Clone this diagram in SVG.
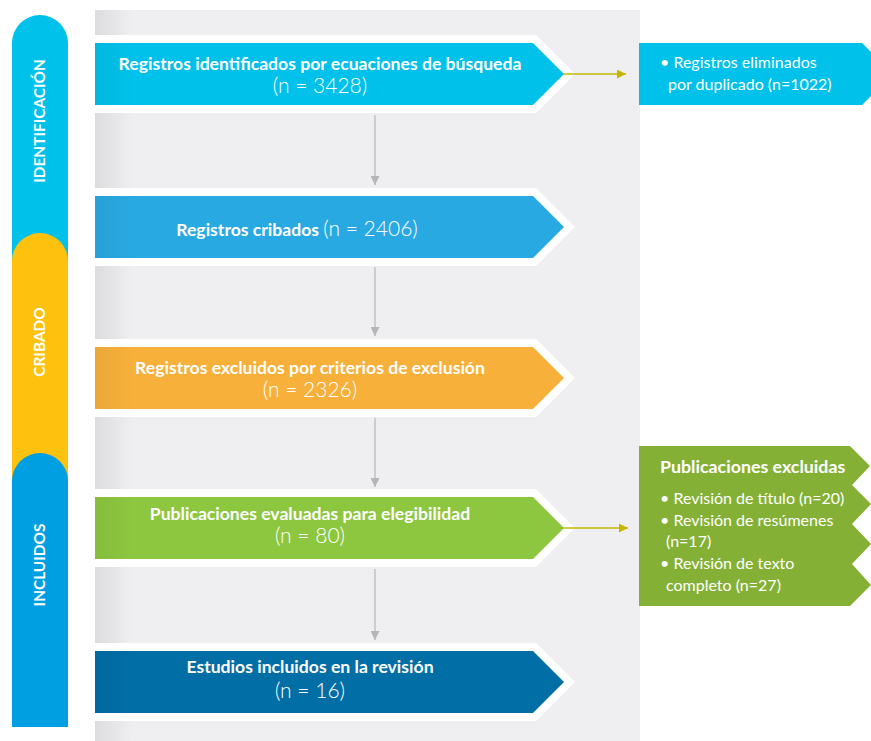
<svg xmlns="http://www.w3.org/2000/svg" width="871" height="741" viewBox="0 0 871 741">
<defs>
<linearGradient id="panelGrad" x1="0" y1="0" x2="1" y2="0">
<stop offset="0" stop-color="#000" stop-opacity="0.08"/>
<stop offset="1" stop-color="#000" stop-opacity="0"/>
</linearGradient>
<marker id="grayHead" viewBox="0 0 10 10" refX="10" refY="5" markerWidth="9" markerHeight="9" markerUnits="userSpaceOnUse" orient="auto">
<path d="M0,0 L10,5 L0,10 Z" fill="#b5b5b7"/>
</marker>
<marker id="oliveHead" viewBox="0 0 10 10" refX="10" refY="5" markerWidth="9" markerHeight="9" markerUnits="userSpaceOnUse" orient="auto">
<path d="M0,0 L10,5 L0,10 Z" fill="#c2b600"/>
</marker>
</defs>
<style>
.bold{font-family:Lato,"Liberation Sans",sans-serif;font-weight:700;fill:#fff}
.light{font-family:Lato,"Liberation Sans",sans-serif;font-weight:300;fill:#fff}
.reg{font-family:Lato,"Liberation Sans",sans-serif;font-weight:400;fill:#fff}
.main{font-size:17.6px}
.num{font-size:21px}
.side{font-size:16px}
.lab{font-size:15.4px;font-family:Lato,"Liberation Sans",sans-serif;font-weight:700;fill:#fff}
.wht{fill:#fff}
.vline{stroke:#b5b5b7;stroke-width:1.2;fill:none;marker-end:url(#grayHead)}
.hline{stroke:#c2b600;stroke-width:1.3;fill:none;marker-end:url(#oliveHead)}
</style>
<rect x="0" y="0" width="871" height="741" fill="#fff"/>
<g id="panel">
<rect x="95" y="10" width="545" height="731" fill="#efeff1"/>
<rect x="95" y="10" width="38" height="731" fill="url(#panelGrad)"/>
</g>
<g id="phase-identificacion">
<path d="M12,43 A28,28 0 0 1 68,43 L68,270 L12,270 Z" fill="#00c1ea"/>
</g>
<g id="phase-cribado">
<path d="M12,261 A28,28 0 0 1 68,261 L68,490 L12,490 Z" fill="#fec10e"/>
</g>
<g id="phase-incluidos">
<path d="M12,481 A28,28 0 0 1 68,481 L68,727 L12,727 Z" fill="#009fe1"/>
</g>
<text class="lab" transform="translate(45,121) rotate(-90)" text-anchor="middle">IDENTIFICACIÓN</text>
<text class="lab" transform="translate(45,342) rotate(-90)" text-anchor="middle">CRIBADO</text>
<text class="lab" transform="translate(45,565) rotate(-90)" text-anchor="middle">INCLUIDOS</text>
<g id="box-identificados">
<polygon class="wht" points="95,35 536,35 575,74 536,113 95,113"/>
<polygon points="95,43 533,43 564,74 533,105 95,105" fill="#00c1ea"/>
<rect x="95" y="43" width="38" height="62" fill="url(#panelGrad)" opacity="0.6"/>
<text class="bold main" x="320" y="70" text-anchor="middle">Registros identificados por ecuaciones de búsqueda</text>
<text class="light num" x="320" y="93" text-anchor="middle">(n = 3428)</text>
</g>
<g id="box-cribados">
<polygon class="wht" points="95,188 536,188 575,227 536,266 95,266"/>
<polygon points="95,196 533,196 564,227 533,258 95,258" fill="#29a9e1"/>
<rect x="95" y="196" width="38" height="62" fill="url(#panelGrad)" opacity="0.6"/>
<text x="297" y="236" text-anchor="middle"><tspan class="bold main">Registros cribados </tspan><tspan class="light num">(n = 2406)</tspan></text>
</g>
<g id="box-excluidos">
<polygon class="wht" points="95,339 536,339 575,378 536,417 95,417"/>
<polygon points="95,347 533,347 564,378 533,409 95,409" fill="#f7b03a"/>
<rect x="95" y="347" width="38" height="62" fill="url(#panelGrad)" opacity="0.6"/>
<text class="bold main" x="310" y="374" text-anchor="middle">Registros excluidos por criterios de exclusión</text>
<text class="light num" x="310" y="397" text-anchor="middle">(n = 2326)</text>
</g>
<g id="box-evaluadas">
<polygon class="wht" points="95,489 536,489 575,528 536,567 95,567"/>
<polygon points="95,497 533,497 564,528 533,559 95,559" fill="#8dc63f"/>
<rect x="95" y="497" width="38" height="62" fill="url(#panelGrad)" opacity="0.6"/>
<text class="bold main" x="310" y="520" text-anchor="middle">Publicaciones evaluadas para elegibilidad</text>
<text class="light num" x="310" y="543" text-anchor="middle">(n = 80)</text>
</g>
<g id="box-incluidos">
<polygon class="wht" points="95,643 536,643 575,682 536,721 95,721"/>
<polygon points="95,651 533,651 564,682 533,713 95,713" fill="#016ea6"/>
<rect x="95" y="651" width="38" height="62" fill="url(#panelGrad)" opacity="0.6"/>
<text class="bold main" x="310" y="673" text-anchor="middle">Estudios incluidos en la revisión</text>
<text class="light num" x="310" y="698" text-anchor="middle">(n = 16)</text>
</g>
<g id="box-duplicados">
<polygon points="639,43 862,43 893,74 862,105 639,105" fill="#00c1ea"/>
<text class="reg side" x="660" y="68">• Registros eliminados</text>
<text class="reg side" x="668" y="90">por duplicado (n=1022)</text>
</g>
<g id="box-publicaciones-excluidas">
<polygon points="639,446 850,446 870,466 852,485 871,504 852,524 871,544 852,564 871,585 850,606 639,606" fill="#84b135"/>
<text class="bold" x="660" y="473" font-size="17.8px">Publicaciones excluidas</text>
<text class="reg side" x="660" y="504">• Revisión de título (n=20)</text>
<text class="reg side" x="660" y="526">• Revisión de resúmenes</text>
<text class="reg side" x="666" y="547">(n=17)</text>
<text class="reg side" x="660" y="569">• Revisión de texto</text>
<text class="reg side" x="666" y="591">completo (n=27)</text>
</g>
<g id="connectors">
<line class="vline" x1="375" y1="115" x2="375" y2="185"/>
<line class="vline" x1="375" y1="267" x2="375" y2="336"/>
<line class="vline" x1="375" y1="418" x2="375" y2="487"/>
<line class="vline" x1="375" y1="569" x2="375" y2="640"/>
<line class="hline" x1="563" y1="74" x2="626" y2="74"/>
<line class="hline" x1="563" y1="528" x2="628" y2="528"/>
</g>
</svg>
